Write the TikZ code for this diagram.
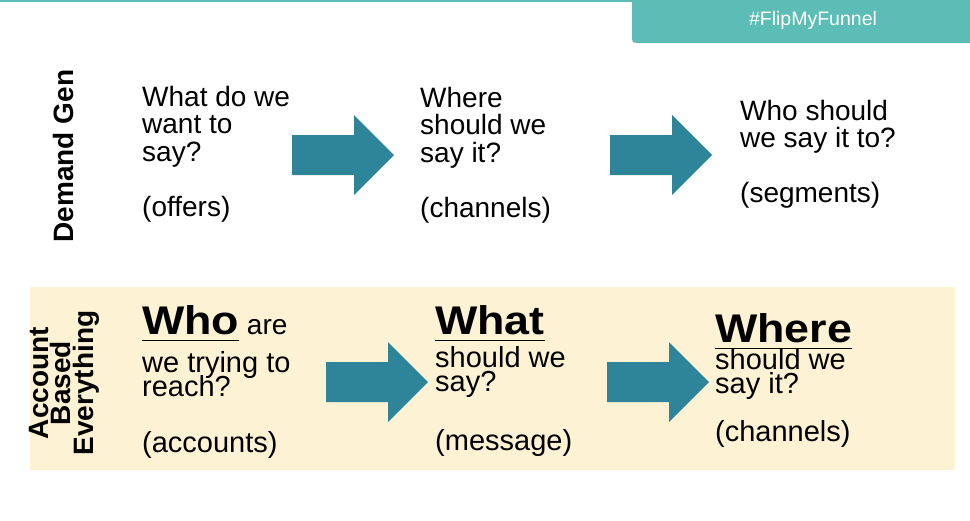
\documentclass[tikz,border=0pt]{standalone}
\usepackage{fontspec}
\setmainfont{Liberation Sans}
\newfontfamily\headfont{Liberation Sans}[FakeStretch=1.12]

\definecolor{tabteal}{HTML}{5BBDB6}
\definecolor{arrowteal}{HTML}{2E8599}
\definecolor{abecream}{HTML}{FEF2D4}

% bold underlined key word of the lower row
\newcommand{\keyword}[1]{%
  \setbox0\hbox{\headfont\bfseries\fontsize{40}{40}\selectfont #1}%
  \rlap{\rule[-7pt]{\wd0}{1.4pt}}\box0}
\newcommand{\tightlines}{\lineskiplimit-50pt\relax}

\begin{document}
\begin{tikzpicture}
  [
    x=1pt, y=-1pt,
    rowtext/.style =
      {anchor=base west, align=left, inner sep=0,
       font=\fontsize{28}{27.5}\selectfont\tightlines},
    abetext/.style =
      {anchor=base west, align=left, inner sep=0,
       font=\fontsize{29}{24.5}\selectfont\tightlines},
    rowlabel/.style =
      {rotate=90, align=center, inner sep=0,
       font=\bfseries\fontsize{28}{22.5}\selectfont\tightlines},
    flowarrow/.pic =
      {\fill[arrowteal] (0,-20) -- (62,-20) -- (62,-40) -- (102,0)
                        -- (62,40) -- (62,20) -- (0,20) -- cycle;}
  ]
  \useasboundingbox (0,0) rectangle (970,520);

  % header tab
  \draw[tabteal, line width=2pt] (0,1) -- (634,1);
  \fill[tabteal] (632,0) -- (632,35) .. controls (632,43) .. (640,43)
                 -- (970,43) -- (970,0) -- cycle;
  \node [text=white, font=\fontsize{19.5}{20}\selectfont] at (813,20) (tag) {\#FlipMyFunnel};

  % demand gen row (nodes sit on the baseline of their last line)
  \node [rowlabel] at (63,156) (dg) {Demand Gen};
  \node [rowtext] at (142,216)   (offers)   {What do we\\want to\\say?\\[27.5pt](offers)};
  \node [rowtext] at (420,217)   (channels) {Where\\should we\\say it?\\[27.5pt](channels)};
  \node [rowtext] at (740,202.5) (segments) {Who should\\we say it to?\\[27.5pt](segments)};
  \pic at (292,155) {flowarrow};
  \pic at (610,155) {flowarrow};

  % account based row
  \fill[abecream] (30,287) rectangle (955,470);
  \node [rowlabel] at (64,383) (abe) {Account\\Based\\Everything};
  \node [abetext] at (142,452) (accounts)
    {\keyword{Who}\fontsize{28}{24.5}\selectfont{} are\\[13.5pt]we trying to\\reach?\\[31pt](accounts)};
  \node [abetext] at (435,450) (message)
    {\keyword{What}\\[8.5pt]should we\\say?\\[34pt](message)};
  \node [abetext] at (715,441) (abechannels)
    {\keyword{Where}\\[2.5pt]should we\\say it?\\[23pt](channels)};
  \pic at (326,382) {flowarrow};
  \pic at (607,382) {flowarrow};
\end{tikzpicture}
\end{document}
